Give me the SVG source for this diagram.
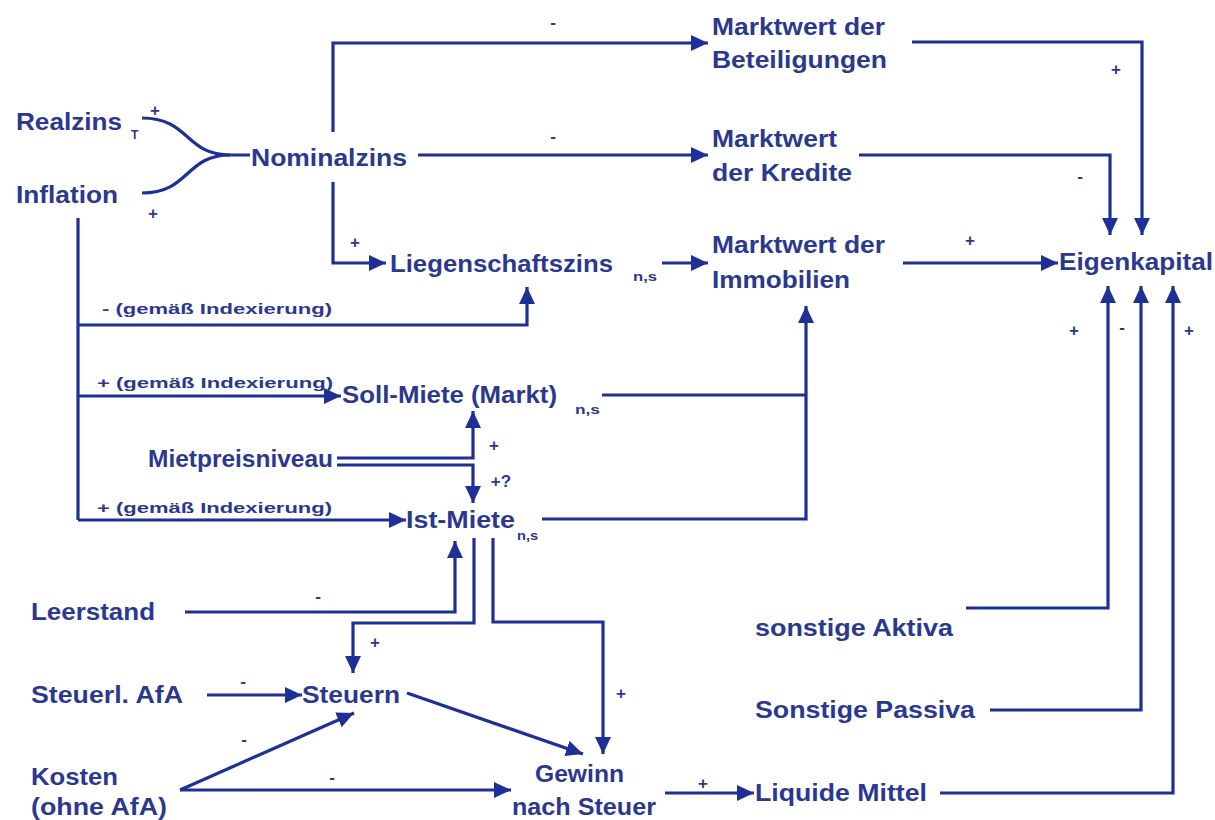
<svg xmlns="http://www.w3.org/2000/svg" width="1215" height="820" viewBox="0 0 1215 820">
<defs>
<marker id="ah" markerUnits="userSpaceOnUse" markerWidth="17" markerHeight="16" refX="16" refY="7.5" orient="auto" viewBox="0 0 16 15">
<path d="M0,0 L16,7.5 L0,15 z" fill="#1e2f96"/>
</marker>
<style>
.t{font-family:"Liberation Sans",Arial,sans-serif;font-weight:bold;font-size:23px;fill:#2b388f}
.s{font-family:"Liberation Sans",Arial,sans-serif;font-weight:bold;font-size:12px;fill:#2b388f}
.g{font-family:"Liberation Sans",Arial,sans-serif;font-weight:bold;font-size:15px;fill:#2b388f}
.p{font-family:"Liberation Sans",Arial,sans-serif;font-weight:bold;font-size:17px;fill:#2b388f;text-anchor:middle}
.c{fill:none;stroke:#1e2f96;stroke-width:3.2}
.a{fill:none;stroke:#1e2f96;stroke-width:3.2;marker-end:url(#ah)}
</style>
</defs>
<rect width="1215" height="820" fill="#ffffff"/>
<g id="connectors">
<path class="c" d="M142,118 C190,118 185,155 230,155 L250,155"/>
<path class="c" d="M142,193 C190,193 185,155 230,155"/>
<path class="a" d="M333,132 L333,43 L708,43"/>
<path class="a" d="M418,155 L708,155"/>
<path class="a" d="M333,182 L333,263 L386,263"/>
<path class="a" d="M662,263 L708,263"/>
<path class="a" d="M912,42 L1142,42 L1142,235"/>
<path class="a" d="M859,155 L1110,155 L1110,235"/>
<path class="a" d="M903,263 L1058,263"/>
<path class="c" d="M78,218 L78,520"/>
<path class="a" d="M78,325 L527,325 L527,287"/>
<path class="a" d="M78,396 L341,396"/>
<path class="a" d="M78,520 L406,520"/>
<path class="c" d="M602,395 L806,395"/>
<path class="a" d="M542,519 L806,519 L806,306"/>
<path class="a" d="M337,458 L473,458 L473,411"/>
<path class="a" d="M337,465 L473,465 L473,503"/>
<path class="a" d="M185,612 L455,612 L455,541"/>
<path class="a" d="M474,538 L474,623 L353,623 L353,673"/>
<path class="a" d="M493,538 L493,622 L603,622 L603,754"/>
<path class="a" d="M207,695 L302,695"/>
<path class="a" d="M407,693 L583,754"/>
<path class="a" d="M180,790 L354,713"/>
<path class="a" d="M180,790 L511,790"/>
<path class="a" d="M665,793 L754,793"/>
<path class="a" d="M966,608 L1108,608 L1108,286"/>
<path class="a" d="M990,710 L1141,710 L1141,286"/>
<path class="a" d="M940,793 L1173,793 L1173,286"/>
</g>
<g id="labels">
<text class="p" x="155" y="116">+</text>
<text class="p" x="153" y="219">+</text>
<text class="p" x="553" y="28">-</text>
<text class="p" x="553" y="142">-</text>
<text class="p" x="355" y="248">+</text>
<text class="p" x="1116" y="75">+</text>
<text class="p" x="1080" y="182">-</text>
<text class="p" x="970" y="246">+</text>
<text class="p" x="1074" y="336">+</text>
<text class="p" x="1122" y="333">-</text>
<text class="p" x="1189" y="336">+</text>
<text class="p" x="494" y="451">+</text>
<text class="p" x="501" y="487">+?</text>
<text class="p" x="318" y="602">-</text>
<text class="p" x="375" y="648">+</text>
<text class="p" x="621" y="699">+</text>
<text class="p" x="243" y="687">-</text>
<text class="p" x="244" y="745">-</text>
<text class="p" x="332" y="783">-</text>
<text class="p" x="703" y="789">+</text>
<text class="g" x="102" y="314" textLength="230" lengthAdjust="spacingAndGlyphs">- (gemäß Indexierung)</text>
<text class="g" x="97" y="388" textLength="236" lengthAdjust="spacingAndGlyphs">+ (gemäß Indexierung)</text>
<text class="g" x="97" y="513" textLength="235" lengthAdjust="spacingAndGlyphs">+ (gemäß Indexierung)</text>
</g>
<g id="realzins"><text class="t" x="16" y="130" textLength="106" lengthAdjust="spacingAndGlyphs">Realzins</text><text class="s" x="131" y="139">T</text></g>
<g id="inflation"><text class="t" x="16" y="203" textLength="102" lengthAdjust="spacingAndGlyphs">Inflation</text></g>
<g id="nominalzins"><text class="t" x="251" y="166" textLength="156" lengthAdjust="spacingAndGlyphs">Nominalzins</text></g>
<g id="beteiligungen"><text class="t" x="712" y="35" textLength="173" lengthAdjust="spacingAndGlyphs">Marktwert der</text><text class="t" x="712" y="68" textLength="175" lengthAdjust="spacingAndGlyphs">Beteiligungen</text></g>
<g id="kredite"><text class="t" x="712" y="147" textLength="125" lengthAdjust="spacingAndGlyphs">Marktwert</text><text class="t" x="712" y="181" textLength="140" lengthAdjust="spacingAndGlyphs">der Kredite</text></g>
<g id="immobilien"><text class="t" x="712" y="253" textLength="173" lengthAdjust="spacingAndGlyphs">Marktwert der</text><text class="t" x="712" y="288" textLength="138" lengthAdjust="spacingAndGlyphs">Immobilien</text></g>
<g id="eigenkapital"><text class="t" x="1059" y="270" textLength="154" lengthAdjust="spacingAndGlyphs">Eigenkapital</text></g>
<g id="liegenschaftszins"><text class="t" x="390" y="272" textLength="223" lengthAdjust="spacingAndGlyphs">Liegenschaftszins</text><text class="s" x="633" y="281" textLength="24" lengthAdjust="spacingAndGlyphs">n,s</text></g>
<g id="sollmiete"><text class="t" x="342" y="403" textLength="215" lengthAdjust="spacingAndGlyphs">Soll-Miete (Markt)</text><text class="s" x="575" y="414" textLength="25" lengthAdjust="spacingAndGlyphs">n,s</text></g>
<g id="mietpreisniveau"><text class="t" x="148" y="467" textLength="185" lengthAdjust="spacingAndGlyphs">Mietpreisniveau</text></g>
<g id="istmiete"><text class="t" x="406" y="528" textLength="109" lengthAdjust="spacingAndGlyphs">Ist-Miete</text><text class="s" x="517" y="540" textLength="21" lengthAdjust="spacingAndGlyphs">n,s</text></g>
<g id="leerstand"><text class="t" x="31" y="620" textLength="124" lengthAdjust="spacingAndGlyphs">Leerstand</text></g>
<g id="steuerlafa"><text class="t" x="31" y="703" textLength="152" lengthAdjust="spacingAndGlyphs">Steuerl. AfA</text></g>
<g id="steuern"><text class="t" x="302" y="703" textLength="98" lengthAdjust="spacingAndGlyphs">Steuern</text></g>
<g id="kosten"><text class="t" x="31" y="785" textLength="87" lengthAdjust="spacingAndGlyphs">Kosten</text><text class="t" x="31" y="815" textLength="136" lengthAdjust="spacingAndGlyphs">(ohne AfA)</text></g>
<g id="gewinn"><text class="t" x="535" y="782" textLength="89" lengthAdjust="spacingAndGlyphs">Gewinn</text><text class="t" x="512" y="815" textLength="144" lengthAdjust="spacingAndGlyphs">nach Steuer</text></g>
<g id="liquide"><text class="t" x="755" y="801" textLength="172" lengthAdjust="spacingAndGlyphs">Liquide Mittel</text></g>
<g id="aktiva"><text class="t" x="755" y="636" textLength="198" lengthAdjust="spacingAndGlyphs">sonstige Aktiva</text></g>
<g id="passiva"><text class="t" x="755" y="718" textLength="220" lengthAdjust="spacingAndGlyphs">Sonstige Passiva</text></g>
</svg>
